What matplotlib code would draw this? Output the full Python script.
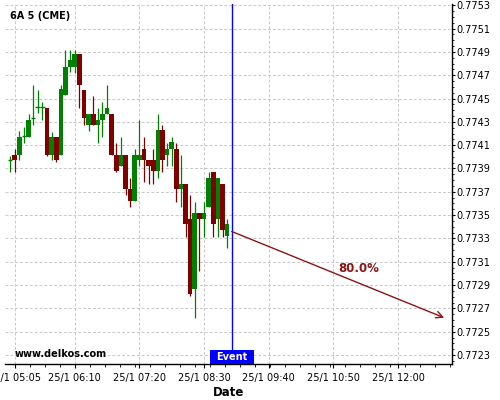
#!/usr/bin/env python3
"""
6A 5 (CME) 5分钟K线 + 事件预测箭头
"""

import matplotlib
matplotlib.use("Agg")
import matplotlib.pyplot as plt
import matplotlib.dates as mdates
import matplotlib.ticker as mticker
import matplotlib.transforms as mtransforms
import matplotlib.patches as mpatches
import pandas as pd

# ─── 数据 ────────────────────────────────────────────────
TITLE = "6A 5 (CME)"
times = pd.date_range("2017-01-25 05:00", periods=48, freq="5min")

opens = [0.77397, 0.77402, 0.77402, 0.77418, 0.77417, 0.77433, 0.77443, 0.77443, 0.77442, 0.77402,
         0.77417, 0.77402, 0.77453, 0.77477, 0.77477, 0.77488, 0.77457, 0.77427, 0.77437, 0.77427,
         0.77432, 0.77437, 0.77437, 0.77402, 0.77392, 0.77402, 0.77372, 0.77362, 0.77397, 0.77407,
         0.77397, 0.77397, 0.77388, 0.77423, 0.77402, 0.77407, 0.77407, 0.77372, 0.77377, 0.77347,
         0.77287, 0.77352, 0.77347, 0.77357, 0.77387, 0.77347, 0.77377, 0.77332]
highs = [0.77401, 0.77407, 0.77422, 0.77426, 0.77437, 0.77462, 0.77457, 0.77447, 0.77442, 0.77421,
         0.77417, 0.77462, 0.77492, 0.77492, 0.77492, 0.77488, 0.77457, 0.77437, 0.77452, 0.77442,
         0.77447, 0.77462, 0.77437, 0.77412, 0.77417, 0.77402, 0.77382, 0.77407, 0.77432, 0.77417,
         0.77397, 0.77407, 0.77437, 0.77427, 0.77412, 0.77417, 0.77412, 0.77402, 0.77377, 0.77367,
         0.77361, 0.77352, 0.77361, 0.77387, 0.77387, 0.77382, 0.77377, 0.77347]
lows = [0.77387, 0.77387, 0.77397, 0.77412, 0.77417, 0.77427, 0.77438, 0.77432, 0.77401, 0.77397,
        0.77396, 0.77402, 0.77453, 0.77473, 0.77472, 0.77442, 0.77427, 0.77422, 0.77427, 0.77412,
        0.77417, 0.77437, 0.77402, 0.77387, 0.77392, 0.77367, 0.77357, 0.77362, 0.77392, 0.77378,
        0.77377, 0.77377, 0.77382, 0.77387, 0.77392, 0.77392, 0.77361, 0.77357, 0.77331, 0.77281,
        0.77262, 0.77302, 0.77331, 0.77357, 0.77331, 0.77331, 0.77331, 0.77322]
closes = [0.77397, 0.77397, 0.77417, 0.77418, 0.77432, 0.77433, 0.77443, 0.77443, 0.77402, 0.77417,
          0.77397, 0.77458, 0.77477, 0.77483, 0.77488, 0.77462, 0.77433, 0.77437, 0.77427, 0.77432,
          0.77437, 0.77442, 0.77402, 0.77388, 0.77402, 0.77372, 0.77362, 0.77402, 0.77402, 0.77397,
          0.77392, 0.77388, 0.77423, 0.77397, 0.77407, 0.77413, 0.77372, 0.77377, 0.77342, 0.77282,
          0.77352, 0.77347, 0.77352, 0.77382, 0.77342, 0.77382, 0.77337, 0.77342]

event_time = pd.Timestamp("2017-01-25 09:00")
arrow_start = (pd.Timestamp("2017-01-25 09:00"), 0.77336)
arrow_end = (pd.Timestamp("2017-01-25 12:50"), 0.77262)
arrow_label = "80.0%"
label_pos = (pd.Timestamp("2017-01-25 11:17"), 0.77304)

tick_times = ["05:05", "06:10", "07:20", "08:30", "09:40", "10:50", "12:00"]
tick_labels = ["25/1 " + t for t in tick_times]
# ─────────────────────────────────────────────────────────

UP, DOWN = "#008000", "#800000"
ARROW_C = "#8b1414"


def main():
    fig = plt.figure(figsize=(5, 4), dpi=100)
    fig.patch.set_facecolor("white")
    ax = fig.add_axes([0.01, 0.089, 0.8934, 0.9008])

    bar_w = 5 / 1440
    x = mdates.date2num(times)
    for xi, o, h, l, c in zip(x, opens, highs, lows, closes):
        col = UP if c >= o else DOWN
        ax.vlines(xi, l, h, color=col, linewidth=0.9, zorder=2)
        if abs(c - o) < 1e-9:
            ax.hlines(o, xi - bar_w / 2, xi + bar_w / 2, color=col, linewidth=1.0, zorder=3)
        else:
            ax.bar(xi, abs(c - o), bottom=min(o, c), width=bar_w,
                   color=col, linewidth=0, zorder=3)

    # 事件线
    ev = mdates.date2num(event_time)
    ax.axvline(ev, color="#0000ff", linewidth=1.0, zorder=4)
    trans = mtransforms.blended_transform_factory(ax.transData, ax.transAxes)
    half = 23.8 / 1440
    ax.add_patch(mpatches.Rectangle((ev - half, 0), 2 * half, 0.04,
                                    transform=trans, facecolor="#0000ff",
                                    edgecolor="none", zorder=5, clip_on=False))
    ax.text(ev, 0.02, "Event", transform=trans, ha="center", va="center",
            color="white", fontsize=7, fontweight="bold", zorder=6)

    # 预测箭头
    ax.annotate("", xy=(mdates.date2num(arrow_end[0]), arrow_end[1]),
                xytext=(mdates.date2num(arrow_start[0]), arrow_start[1]),
                arrowprops=dict(arrowstyle="->", color=ARROW_C, lw=1.0,
                                mutation_scale=12, shrinkA=0, shrinkB=0),
                zorder=4)
    ax.text(mdates.date2num(label_pos[0]), label_pos[1], arrow_label,
            ha="center", va="center", color=ARROW_C, fontsize=8.5, fontweight="bold")

    ax.text(0.011, 0.967, TITLE, transform=ax.transAxes, ha="left", va="center",
            fontsize=7, fontweight="bold", color="black")
    ax.text(0.022, 0.03, "www.delkos.com", transform=ax.transAxes, ha="left",
            va="center", fontsize=7, fontweight="bold", color="black", zorder=6)

    # 坐标轴
    ax.set_xlim(mdates.date2num(pd.Timestamp("2017-01-25 04:54:30")),
                mdates.date2num(pd.Timestamp("2017-01-25 12:58:10")))
    ax.set_ylim(0.77222, 0.77531)

    major_x = [mdates.date2num(pd.Timestamp("2017-01-25 " + t)) for t in tick_times]
    ax.xaxis.set_major_locator(mticker.FixedLocator(major_x))
    ax.xaxis.set_major_formatter(mticker.FixedFormatter(tick_labels))
    ax.xaxis.set_minor_locator(mticker.AutoMinorLocator(4))

    ax.yaxis.tick_right()
    ax.yaxis.set_major_locator(mticker.MultipleLocator(0.0002, offset=0.0001))
    ax.yaxis.set_minor_locator(mticker.MultipleLocator(0.00005))
    ax.yaxis.set_major_formatter(mticker.FormatStrFormatter("%.4f"))

    ax.tick_params(axis="x", which="major", length=3, width=0.8, labelsize=7, pad=3.5)
    ax.tick_params(axis="x", which="minor", length=2.5, width=0.6)
    ax.tick_params(axis="y", which="major", length=2.5, width=0.8, labelsize=7, pad=1)
    ax.tick_params(axis="y", which="minor", length=1.5, width=0.6)

    for side in ("left", "top"):
        ax.spines[side].set_visible(False)
    for side in ("right", "bottom"):
        ax.spines[side].set_linewidth(1.0)
        ax.spines[side].set_color("black")

    ax.grid(True, which="major", color="#c8c8c8", linestyle=(0, (3, 2)),
            linewidth=0.7, zorder=0)
    ax.set_axisbelow(True)

    ax.set_xlabel("Date", fontsize=8.5, fontweight="bold", labelpad=2)

    fig.savefig("out.png", dpi=100, facecolor="white")
    plt.close(fig)


if __name__ == "__main__":
    main()
